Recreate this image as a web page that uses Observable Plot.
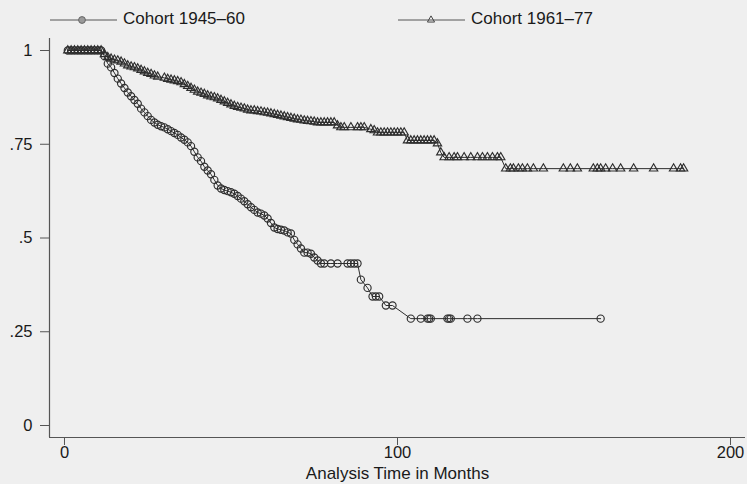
<!DOCTYPE html>
<html>
<head>
<meta charset="utf-8">
<script src="https://cdn.jsdelivr.net/npm/d3@7"></script>
<script src="https://cdn.jsdelivr.net/npm/@observablehq/plot@0.6"></script>
<style>
  html, body { margin: 0; padding: 0; background: #efefef; }
  body { width: 747px; height: 484px; overflow: hidden; font-family: "Liberation Sans", Arial, Helvetica, sans-serif; }
  #legend { display: block; }
  #chart svg { display: block; }
</style>
</head>
<body>
<svg id="legend" width="747" height="30"></svg>
<div id="chart"></div>
<script>
// Kaplan–Meier survival estimates by birth cohort (time in months)
const cohorts = ["Cohort 1945–60", "Cohort 1961–77"];

const timeA = [1, 2, 3, 4, 5, 6, 7, 8, 9, 10, 11,
  12, 13, 14, 15, 16, 17, 18, 19, 20, 21, 22, 23, 24, 25, 26, 27, 28, 29, 30,
  31, 32, 33, 34, 35, 36, 37, 38, 39, 40, 41, 42, 43, 44, 45, 46, 47, 48, 49, 50,
  51, 52, 53, 54, 55, 56, 57, 58, 59, 60, 61, 62, 63, 64, 65, 66, 67, 68, 69, 70,
  71, 72, 73, 74, 75, 76, 77, 78, 80, 82, 85, 86, 87, 88,
  89, 91, 92.5, 93.5, 94.5, 96.5, 98.5,
  104, 107, 109, 109.5, 110, 115, 115.5, 116, 121, 124, 161];
const survA = [1, 1, 1, 1, 1, 1, 1, 1, 1, 1, 1,
  0.985, 0.965, 0.955, 0.94, 0.925, 0.912, 0.9, 0.888, 0.878, 0.868, 0.858, 0.845, 0.835, 0.825, 0.815, 0.808, 0.802, 0.798, 0.795,
  0.79, 0.785, 0.78, 0.775, 0.768, 0.762, 0.755, 0.745, 0.73, 0.715, 0.705, 0.69, 0.68, 0.67, 0.655, 0.64, 0.632, 0.628, 0.625, 0.622,
  0.618, 0.612, 0.605, 0.598, 0.59, 0.582, 0.575, 0.568, 0.565, 0.56, 0.552, 0.54, 0.528, 0.524, 0.522, 0.52, 0.515, 0.512, 0.495, 0.483,
  0.472, 0.461, 0.461, 0.458, 0.448, 0.44, 0.432, 0.432, 0.432, 0.432, 0.432, 0.432, 0.432, 0.432,
  0.389, 0.367, 0.344, 0.344, 0.344, 0.32, 0.32,
  0.285, 0.285, 0.285, 0.285, 0.285, 0.285, 0.285, 0.285, 0.285, 0.285, 0.285];

const timeB = [1, 2, 3, 4, 5, 6, 7, 8, 9, 10, 11,
  12, 13, 14, 15, 16, 17, 18, 19, 20, 21, 22, 23, 24, 25, 26, 27, 28, 30,
  31, 32, 33, 34, 35, 36, 37, 38, 39, 40, 41, 42, 43, 44, 45, 46, 47, 48, 49, 50,
  51, 52, 53, 54, 55, 56, 57, 58, 59, 60, 61, 62, 63, 64, 65, 66, 67, 68, 69, 70,
  71, 72, 73, 74, 75, 76, 77, 78, 79, 80, 81,
  82, 83, 84, 86, 88, 89, 90, 92, 93,
  94, 95, 96, 97, 98, 99, 100, 101, 102,
  103, 104, 105, 106, 107, 108, 109, 110, 111,
  112, 113, 114, 115.5, 117, 118, 120, 122, 124, 125.5, 127, 128.5, 130, 131,
  132.5, 133.9, 134.8, 136.3, 137.5, 139, 140.8, 143.8, 149.8, 151.9, 154, 158.8, 160, 161,
  162.5, 164.6, 167, 170.9, 176.9, 182.9, 185, 185.9];
const survB = [1, 1, 1, 1, 1, 1, 1, 1, 1, 1, 1,
  0.99, 0.982, 0.978, 0.975, 0.973, 0.97, 0.965, 0.96, 0.957, 0.955, 0.952, 0.948, 0.944, 0.94, 0.937, 0.933, 0.93, 0.927,
  0.924, 0.922, 0.92, 0.918, 0.915, 0.91, 0.905, 0.9, 0.895, 0.89, 0.887, 0.884, 0.88, 0.877, 0.875, 0.872, 0.868, 0.864, 0.86, 0.856,
  0.852, 0.849, 0.847, 0.845, 0.842, 0.84, 0.84, 0.838, 0.837, 0.835, 0.834, 0.832, 0.83, 0.828, 0.826, 0.824, 0.822, 0.82, 0.818, 0.816,
  0.815, 0.813, 0.812, 0.811, 0.81, 0.808, 0.808, 0.808, 0.808, 0.808, 0.808,
  0.8, 0.795, 0.795, 0.795, 0.795, 0.795, 0.795, 0.79, 0.787,
  0.781, 0.781, 0.781, 0.781, 0.781, 0.781, 0.781, 0.781, 0.781,
  0.76, 0.76, 0.76, 0.76, 0.76, 0.76, 0.76, 0.76, 0.76,
  0.752, 0.728, 0.715, 0.715, 0.715, 0.715, 0.715, 0.715, 0.715, 0.715, 0.715, 0.715, 0.715, 0.715,
  0.685, 0.685, 0.685, 0.685, 0.685, 0.685, 0.685, 0.685, 0.685, 0.685, 0.685, 0.685, 0.685, 0.685,
  0.685, 0.685, 0.685, 0.685, 0.685, 0.685, 0.685, 0.685];

const yTicks = [0, 0.25, 0.5, 0.75, 1];
const yTickLabels = ["0", ".25", ".5", ".75", "1"];
const xTicks = [0, 100, 200];
const xLabel = "Analysis Time in Months";

const xDomain = [-4.5, 204.5];
const yDomain = [-0.032, 1.032];

const rowsA = timeA.map((t, i) => ({time: t, surv: survA[i]}));
const rowsB = timeB.map((t, i) => ({time: t, surv: survB[i]}));

const ink = "#2e2e2e";
const font = "'Liberation Sans', Arial, Helvetica, sans-serif";

// legend row: line–marker–line key followed by the cohort name
const legend = d3.select("#legend").attr("font-family", font);
const keys = [{x: 50, symbol: "circle"}, {x: 398, symbol: "triangle"}];
keys.forEach((k, i) => {
  const g = legend.append("g");
  g.append("line").attr("x1", k.x).attr("x2", k.x + 67).attr("y1", 20).attr("y2", 20)
    .attr("stroke", "#555").attr("stroke-width", 1);
  if (k.symbol === "circle") {
    g.append("circle").attr("cx", k.x + 32).attr("cy", 20).attr("r", 3.4)
      .attr("fill", "#9a9a9a").attr("stroke", "#666");
  } else {
    g.append("path").attr("transform", `translate(${k.x + 33},20)`)
      .attr("d", d3.symbol(d3.symbolTriangle, 22)())
      .attr("fill", "none").attr("stroke", "#444");
  }
  g.append("text").attr("x", k.x + 73).attr("y", 24).attr("font-size", 17)
    .attr("fill", "#1a1a1a").text(cohorts[i]);
});

const chart = Plot.plot({
  width: 747,
  height: 454,
  marginTop: 8,
  marginBottom: 47,
  marginLeft: 49,
  marginRight: 2,
  style: {background: "transparent", fontFamily: font, fontSize: "17px", color: "#1a1a1a", overflow: "visible"},
  x: {domain: xDomain},
  y: {domain: yDomain},
  marks: [
    Plot.ruleX([xDomain[0]], {stroke: "#555", strokeWidth: 1.2}),
    Plot.ruleY([yDomain[0]], {stroke: "#555", strokeWidth: 1.2}),
    Plot.axisY({ticks: yTicks, tickFormat: d => yTickLabels[yTicks.indexOf(d)], tickSize: 9, tickPadding: 8, label: null, stroke: "#555", fontSize: 16.5}),
    Plot.axisX({ticks: xTicks, tickFormat: d => String(d), tickSize: 8, tickPadding: 1, label: null, stroke: "#555", fontSize: 16.5}),
    Plot.axisX({ticks: [], label: xLabel, labelAnchor: "center", labelOffset: 41, labelArrow: "none", fontSize: 17}),
    Plot.line(rowsB, {x: "time", y: "surv", stroke: ink, strokeWidth: 1}),
    Plot.line(rowsA, {x: "time", y: "surv", stroke: ink, strokeWidth: 1}),
    Plot.dot(rowsB, {x: "time", y: "surv", symbol: "triangle", r: 3.1, stroke: ink, fill: "none", strokeWidth: 1.15}),
    Plot.dot(rowsA, {x: "time", y: "surv", symbol: "circle", r: 3.6, stroke: ink, fill: "none", strokeWidth: 1.15})
  ]
});
document.getElementById("chart").append(chart);
</script>
</body>
</html>
